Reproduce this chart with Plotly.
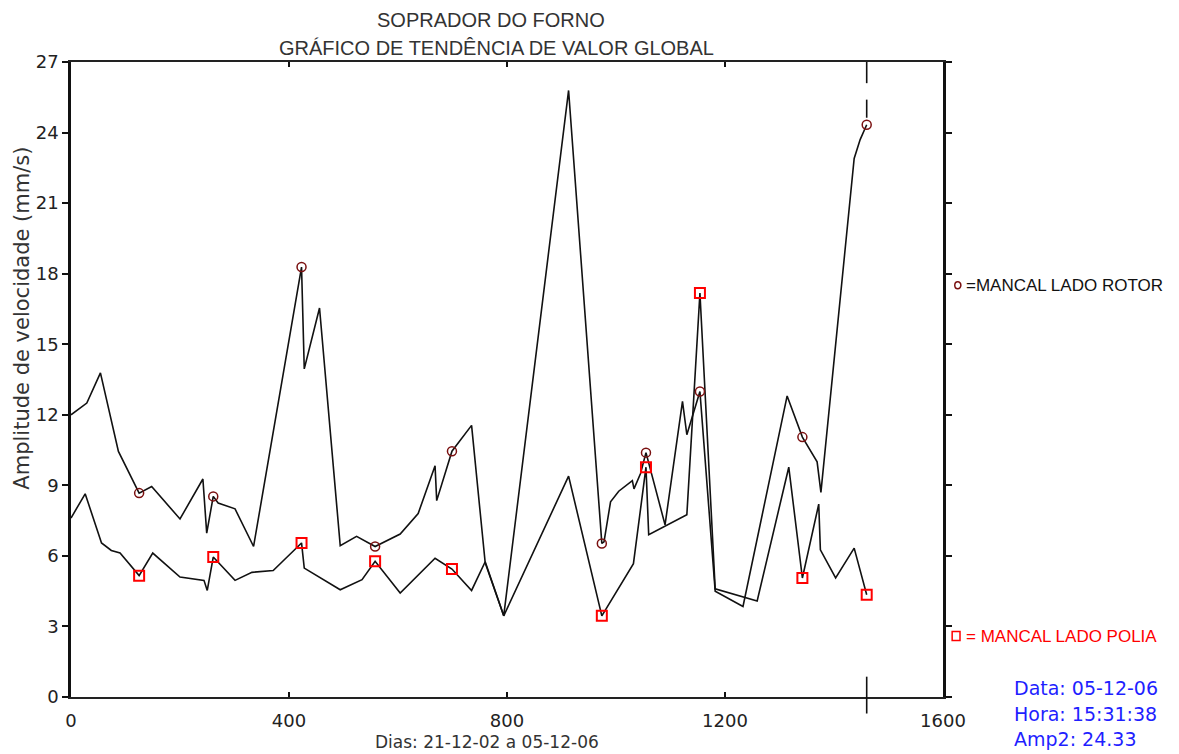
import plotly.graph_objects as go

# ---- data (days since 21-12-02, velocity amplitude mm/s) ----
rotor_days = [0, 29, 54, 87, 125, 148, 200, 242, 249, 261, 270, 301, 335, 423, 428, 456, 494, 524,
              558, 604, 637, 668, 671, 699, 735, 760, 794, 913, 974, 978, 990, 1005, 1030, 1033,
              1045, 1055, 1090, 1122, 1130, 1154, 1182, 1233, 1314, 1342, 1369, 1376, 1437, 1448, 1460]
rotor_vals = [12.0, 12.5, 13.78, 10.44, 8.67, 8.95, 7.57, 9.27, 6.97, 8.53, 8.25, 8.0, 6.4, 18.28,
              13.95, 16.54, 6.43, 6.83, 6.4, 6.93, 7.8, 9.83, 8.35, 10.45, 11.55, 5.7, 3.45, 25.79,
              6.53, 6.6, 8.3, 8.75, 9.2, 8.85, 9.5, 10.39, 7.32, 12.57, 11.15, 12.99, 4.5, 3.85,
              12.8, 11.05, 10.0, 8.7, 22.9, 23.7, 24.33]

polia_days = [0, 26, 56, 74, 90, 125, 150, 200, 244, 250, 261, 301, 332, 371, 423, 428, 494, 534,
              558, 604, 668, 699, 735, 760, 794, 913, 974, 1032, 1055, 1060, 1130, 1154, 1182,
              1259, 1317, 1342, 1372, 1375, 1403, 1437, 1460]
polia_vals = [7.61, 8.64, 6.55, 6.23, 6.12, 5.16, 6.12, 5.1, 4.96, 4.53, 5.95, 4.96, 5.3, 5.38,
              6.55, 5.48, 4.56, 4.99, 5.77, 4.42, 5.9, 5.44, 4.53, 5.75, 3.45, 9.39, 3.45, 5.67,
              9.77, 6.9, 7.75, 17.18, 4.6, 4.08, 9.77, 5.06, 8.2, 6.26, 5.06, 6.33, 4.35]

marker_days = [125, 261, 423, 558, 699, 974, 1055, 1154, 1342, 1460]

x_ticks = [0, 400, 800, 1200, 1600]
y_ticks = [0, 3, 6, 9, 12, 15, 18, 21, 24, 27]

title_1 = "SOPRADOR DO FORNO"
title_2 = "GRÁFICO DE TENDÊNCIA DE VALOR GLOBAL"
x_title = "Dias: 21-12-02 a 05-12-06"
y_title = "Amplitude de velocidade (mm/s)"
legend_rotor = "=MANCAL LADO ROTOR"
legend_polia = "= MANCAL LADO POLIA"
info_lines = ["Data: 05-12-06", "Hora: 15:31:38", "Amp2: 24.33"]

ROTOR_MK = "#7a1010"
POLIA_MK = "#ff0000"
BLUE = "#1f1fff"

rotor_mk_vals = [rotor_vals[rotor_days.index(d)] for d in marker_days]
polia_mk_vals = [polia_vals[polia_days.index(d)] for d in marker_days]

fig = go.Figure()
fig.add_trace(go.Scatter(x=rotor_days, y=rotor_vals, mode="lines",
                         line=dict(color="#111111", width=1.6), showlegend=False))
fig.add_trace(go.Scatter(x=polia_days, y=polia_vals, mode="lines",
                         line=dict(color="#111111", width=1.6), showlegend=False))
fig.add_trace(go.Scatter(x=marker_days, y=rotor_mk_vals, mode="markers",
                         marker=dict(symbol="circle-open", size=9, color=ROTOR_MK,
                                     line=dict(width=1.5, color=ROTOR_MK)), showlegend=False))
fig.add_trace(go.Scatter(x=marker_days, y=polia_mk_vals, mode="markers",
                         marker=dict(symbol="square-open", size=10, color=POLIA_MK,
                                     line=dict(width=2, color=POLIA_MK)), showlegend=False))

# cursor at last measurement
cur_x = marker_days[-1]
fig.add_shape(type="line", xref="x", yref="y", x0=cur_x, x1=cur_x, y0=27, y1=26.1,
              line=dict(color="#111111", width=1.6))
fig.add_shape(type="line", xref="x", yref="y", x0=cur_x, x1=cur_x, y0=25.4, y1=rotor_mk_vals[-1] + 0.3,
              line=dict(color="#111111", width=1.6))
fig.add_shape(type="line", xref="x", yref="paper", x0=cur_x, x1=cur_x, y0=0.032, y1=-0.026,
              line=dict(color="#111111", width=1.6))

# legend symbols
fig.add_shape(type="circle", xref="paper", yref="paper", x0=1.0135, x1=1.0205, y0=0.643, y1=0.654,
              line=dict(color=ROTOR_MK, width=1.5))
fig.add_shape(type="rect", xref="paper", yref="paper", x0=1.0105, x1=1.0195, y0=0.089, y1=0.103,
              line=dict(color=POLIA_MK, width=1.5))

font_main = "DejaVu Sans, Verdana, sans-serif"
annos = [
    dict(text=title_1, x=0.4817, y=1.066, font=dict(family="Liberation Sans, Arial", size=20, color="#333333")),
    dict(text=title_2, x=0.4885, y=1.022, font=dict(family="Liberation Sans, Arial", size=20, color="#333333")),
    dict(text=x_title, x=0.477, y=-0.0705, font=dict(family=font_main, size=17, color="#333333")),
    dict(text=y_title, x=-0.0565, y=0.597, textangle=-90, font=dict(family=font_main, size=21, color="#333333")),
    dict(text=legend_rotor, x=1.0245, y=0.6488, xanchor="left",
         font=dict(family="Liberation Sans, Arial", size=17, color="#111111")),
    dict(text=legend_polia, x=1.0245, y=0.096, xanchor="left",
         font=dict(family="Liberation Sans, Arial", size=17, color=POLIA_MK)),
]
for i, (t, yy) in enumerate(zip(info_lines, [0.0142, -0.0268, -0.0665])):
    annos.append(dict(text=t, x=1.079, y=yy, xanchor="left", font=dict(family=font_main, size=19, color=BLUE)))
for a in annos:
    a.setdefault("xanchor", "center")
    a.update(xref="paper", yref="paper", yanchor="middle", showarrow=False)
fig.update_layout(annotations=annos)

fig.update_layout(
    width=1179, height=754,
    margin=dict(l=71, r=236, t=62, b=57, pad=0),
    paper_bgcolor="white", plot_bgcolor="white",
    showlegend=False,
    xaxis=dict(range=[0, 1600], tickvals=x_ticks, ticks="inside", ticklen=5, tickwidth=2,
               tickcolor="#111111", mirror="allticks", showline=True, linecolor="#222222",
               linewidth=2, showgrid=False, zeroline=False, ticklabelstandoff=6,
               tickfont=dict(family=font_main, size=18, color="#222222")),
    yaxis=dict(range=[0, 27], tickvals=y_ticks, ticks="outside", ticklen=6, tickwidth=2,
               tickcolor="#111111", mirror="allticks", showline=True, linecolor="#111111",
               linewidth=2.5, showgrid=False, zeroline=False,
               tickfont=dict(family=font_main, size=18, color="#222222")),
)

fig.write_html("out.html", config={"displayModeBar": False},
               post_script="document.body.style.margin='0';document.body.style.overflow='hidden';")
